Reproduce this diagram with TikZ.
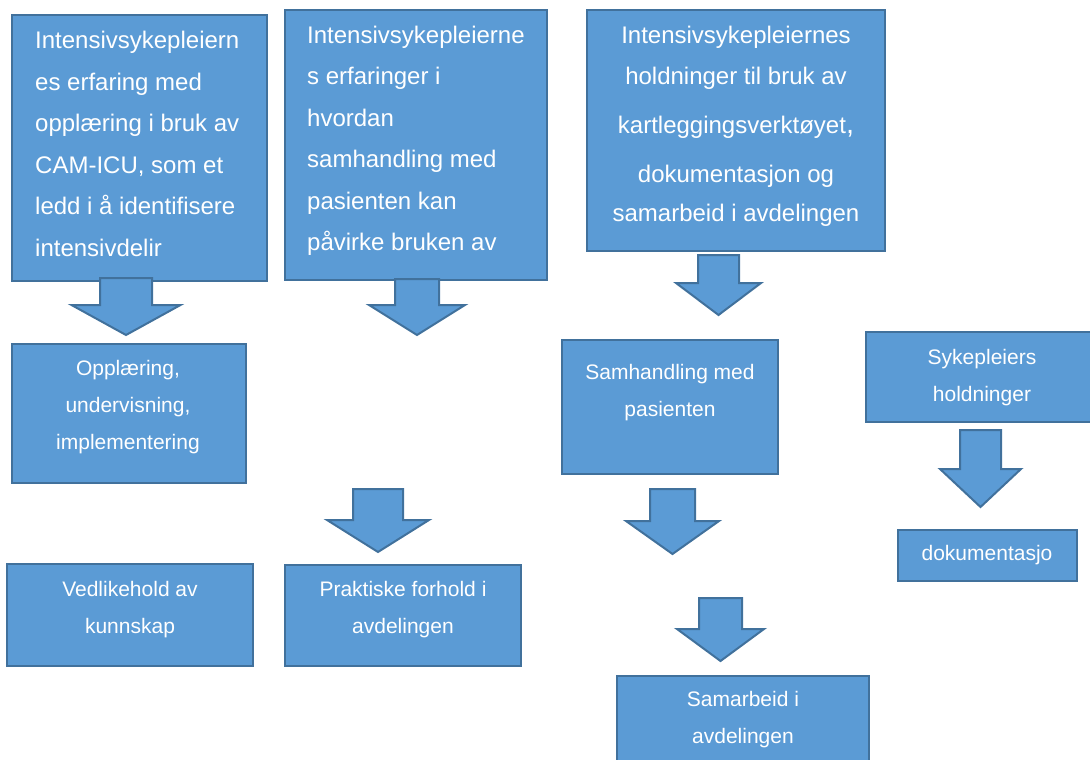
\documentclass[tikz,border=0pt]{standalone}
\usepackage{fontspec}
\setmainfont{Liberation Sans}
\usepackage{tikz}
\definecolor{boksblaa}{RGB}{91,155,213}
\definecolor{kantblaa}{RGB}{65,113,156}

% blokkpil: {midt x}{topp}{skaftbredde}{hals}{hodebredde}{spiss}
\newcommand{\blokkpil}[6]{%
    \draw[pil] ({#1-#3/2},#2) -- ({#1+#3/2},#2) -- ({#1+#3/2},#4) -- ({#1+#5/2},#4)
        -- (#1,#6) -- ({#1-#5/2},#4) -- ({#1-#3/2},#4) -- cycle;}

\begin{document}
\begin{tikzpicture}[x=1pt, y=-1pt,
    boks/.style={draw=kantblaa, fill=boksblaa, line width=2pt, inner sep=0pt, outer sep=0pt, anchor=north west},
    pil/.style={draw=kantblaa, fill=boksblaa, line width=2pt},
    stor/.style={text=white, inner sep=0pt, font=\fontsize{24}{41.5}\selectfont},
    liten/.style={text=white, inner sep=0pt, text width=230pt, align=flush center, anchor=base, font=\fontsize{21}{37}\selectfont}]

    \clip (0,0) rectangle (1090,760);

    % tre hovedtemaer
    \node[boks, minimum width=255pt, minimum height=266pt] (erfaring) at (12,15) {};
    \node[stor, text width=235pt, align=flush left, anchor=base west] (erfaring-tekst) at (35,49)
        {Intensivsykepleiern\\es erfaring med\\oppl\ae ring i bruk av\\CAM-ICU, som et\\ledd i å identifisere\\intensivdelir};

    \node[boks, minimum width=262pt, minimum height=270pt] (samhandling) at (285,10) {};
    \node[stor, text width=235pt, align=flush left, anchor=base west] (samhandling-tekst) at (307,43.3)
        {Intensivsykepleierne\\s erfaringer i\\hvordan\\samhandling med\\pasienten kan\\påvirke bruken av};

    \node[boks, minimum width=298pt, minimum height=241pt] (holdning) at (587,10) {};
    \node[stor, text width=290pt, align=flush center, anchor=base] (holdning-tekst) at (736,43.3)
        {Intensivsykepleiernes\\holdninger til bruk av\\[7.5pt]kartleggingsverktøyet{\fontsize{29}{41.5}\selectfont,}\\[7pt]dokumentasjon og\\[-2pt]samarbeid i avdelingen};

    % undertemaer
    \node[boks, minimum width=234pt, minimum height=139pt] (opplaering) at (12,344) {};
    \node[liten] (opplaering-tekst) at (128,375.7) {Oppl\ae ring,\\undervisning,\\implementering};

    \node[boks, minimum width=246pt, minimum height=102pt] (vedlikehold) at (7,564) {};
    \node[liten] (vedlikehold-tekst) at (130,596) {Vedlikehold av\\kunnskap};

    \node[boks, minimum width=236pt, minimum height=101pt] (praktisk) at (285,565) {};
    \node[liten] (praktisk-tekst) at (403,596) {Praktiske forhold i\\avdelingen};

    \node[boks, minimum width=216pt, minimum height=134pt] (pasient) at (562,340) {};
    \node[liten] (pasient-tekst) at (670,379.3) {Samhandling med\\pasienten};

    \node[boks, minimum width=234pt, minimum height=90pt] (sykepleier) at (866,332) {};
    \node[liten] (sykepleier-tekst) at (982,364) {Sykepleiers\\holdninger};

    \node[boks, minimum width=179pt, minimum height=51pt] (dokumentasjon) at (898,530) {};
    \node[liten] (dokumentasjon-tekst) at (987,560.7) {dokumentasjo};

    \node[boks, minimum width=252pt, minimum height=95pt] (samarbeid) at (617,676) {};
    \node[liten] (samarbeid-tekst) at (743,706.7) {Samarbeid i\\avdelingen};

    % piler
    \blokkpil{126}{278}{52}{305}{109}{335}
    \blokkpil{417}{279}{44}{305}{96}{335}
    \blokkpil{718.5}{255}{41}{283}{85}{315}
    \blokkpil{378}{489}{50}{520}{102}{552}
    \blokkpil{672.5}{489}{45}{521}{93}{554}
    \blokkpil{720.5}{598}{43}{629}{87}{661}
    \blokkpil{980.5}{430}{41}{469}{81}{507}
\end{tikzpicture}
\end{document}
